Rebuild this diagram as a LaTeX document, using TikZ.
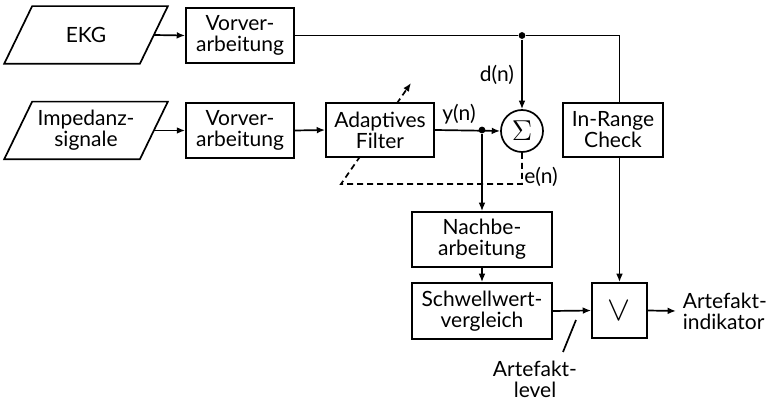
\documentclass[tikz,border=0pt]{standalone}
\usepackage{fontspec}
\setmainfont{Lato}
\usetikzlibrary{arrows.meta,calc}
\begin{document}
\begin{tikzpicture}[x=0.5pt,y=-0.5pt,
  font=\fontsize{10.5}{10.5}\selectfont,
  line width=0.85pt,
  >={Latex[length=4.2pt,width=3.4pt]},
  block/.style={draw,fill=white,align=center,inner sep=0pt},
  io/.style={align=center,inner sep=0pt,minimum width=67pt,minimum height=28pt},
  lbl/.style={inner sep=0pt,align=center},
  dot/.style={circle,fill,inner sep=0pt,minimum size=3.4pt}]
  \useasboundingbox (0,0) rectangle (768,401);

  % inputs (parallelograms)
  \node[io] (ekg) at (86,35) {EKG};
  \node[io] (imp) at (86,130.5) {Impedanz-\\signale};
  \foreach \n in {ekg,imp}
    \draw ($(\n.south west)+(-14,0)$) -- ($(\n.south east)+(-14,0)$)
       -- ($(\n.north east)+(14,0)$) -- ($(\n.north west)+(14,0)$) -- cycle;

  % summing point and the error feedback that adapts the filter
  \node[block,circle,minimum size=21pt] (sum) at (522,131) {\fontsize{15}{15}\selectfont$\Sigma$};
  \coordinate (e1) at (522,184);
  \coordinate (e2) at (341,184);
  \coordinate (e3) at (411,83);
  \draw[->,dash pattern=on 3pt off 2pt] (sum.south) -- (e1) -- (e2) -- (e3);

  % processing blocks (the filter covers the dashed adaptation arrow)
  \node[block,minimum width=54pt,minimum height=27.5pt] (vor1) at (240,35.5) {Vorver-\\arbeitung};
  \node[block,minimum width=54pt,minimum height=27.5pt] (vor2) at (240,130.5) {Vorver-\\arbeitung};
  \node[block,minimum width=54pt,minimum height=27pt] (filt) at (380,130) {Adaptives\\Filter};
  \node[block,minimum width=50pt,minimum height=27pt] (rng) at (613,130) {In-Range\\Check};
  \node[block,minimum width=70pt,minimum height=27.5pt] (nach) at (482,239.5) {Nachbe-\\arbeitung};
  \node[block,minimum width=70pt,minimum height=28pt] (schw) at (482,311) {Schwellwert-\\vergleich};
  \node[block,minimum width=27.5pt,minimum height=27.5pt] (or) at (619.5,310.5) {\fontsize{17}{17}\selectfont$\vee$};

  % labels
  \node[lbl] (dn) at (497,75) {d(n)};
  \node[lbl] (yn) at (459,114) {y(n)};
  \node[lbl] (en) at (541,177) {e(n)};
  \node[lbl,anchor=west,inner xsep=3pt,align=left] (ind) at (676,311) {Artefakt-\\indikator};
  \node[lbl] (lev) at (535,379) {Artefakt-\\level};

  % junctions
  \node[dot] (j1) at (522,35.5) {};
  \node[dot] (j2) at (482,130) {};

  % signal paths
  \draw[->] (ekg.east) -- (vor1.west);
  \draw[->] (imp.east) -- (vor2.west);
  \draw[->] (vor2.east) -- (filt.west);
  \draw (vor1.east) -- (j1) -- (j1 -| or.north) -- (rng.north -| or.north);
  \draw[->] (rng.south -| or.north) -- (or.north);
  \draw[->] (j1) -- (sum.north);
  \draw[->] (filt.east) -- (sum.west);
  \draw[->] (j2) -- (nach.north);
  \draw[->] (nach.south) -- (schw.north);
  \draw[->] (schw.east) -- (or.west);
  \draw[->] (or.east) -- (ind.west);

  % pointer to the artefact level signal
  \coordinate (p1) at (576,320);
  \coordinate (p2) at (563,352);
  \draw (p1) -- (p2);
\end{tikzpicture}
\end{document}
